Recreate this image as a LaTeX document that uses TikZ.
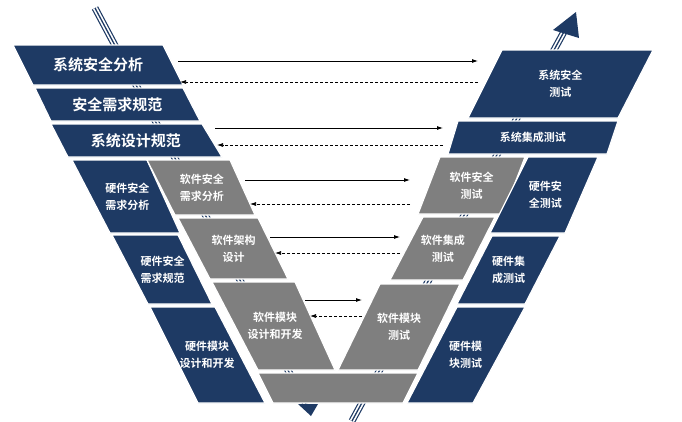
\documentclass[tikz,border=0pt]{standalone}
\usepackage{fontspec}
\newfontfamily\cjk{Noto Sans CJK SC}[BoldFont={Noto Sans CJK SC Bold}]
\begin{document}
\begin{tikzpicture}[x=1pt,y=-1pt,
  navy/.style={fill=vnavy,draw=white,line width=1.2pt},
  grayb/.style={fill=vgray,draw=white,line width=1.2pt},
  lbl/.style={text=white,font=\cjk\bfseries,align=center,inner sep=0pt},
  big/.style={font=\cjk\bfseries\fontsize{15}{17}\selectfont},
  sml/.style={font=\cjk\bfseries\fontsize{11}{17}\selectfont},
  fw/.style={-{Latex[length=6pt,width=4pt]},line width=0.8pt},
  bw/.style={-{Latex[length=6pt,width=4pt]},line width=0.7pt,dash pattern=on 3pt off 2pt}]
\usetikzlibrary{arrows.meta}
\definecolor{vnavy}{HTML}{1E3A64}
\definecolor{vgray}{HTML}{7F7F7F}
\useasboundingbox (0,0) rectangle (682,421);
\fill[white] (0,0) rectangle (682,421);
% background bands
\newcommand\band[2]{%
 \draw[vnavy,line width=7pt] #1 -- #2;
 \draw[white,line width=4.6pt] #1 -- #2;
 \draw[vnavy,line width=1.3pt] #1 -- #2;}
\band{(95,8)}{(306,404)}
\fill[vnavy] (298,404) -- (318,404) -- (311,416) -- cycle;
\band{(352,421)}{(566,28)}
\fill[vnavy] (553,30) -- (579,38) -- (576,12) -- cycle;
% parallelogram macro: name, ytop, ybot, xtl, xtr, xbl, xbr, style, size, text
\newcommand\pg[9]{%
 \draw[#8] (#4,#2) -- (#5,#2) -- (#7,#3) -- (#6,#3) -- cycle;
 \node[lbl,#9] (#1) at ({(#4+#5+#6+#7)/4},{(#2+#3)/2})}
% left side
\pg{a1}{45}{85}{13}{163}{33}{183}{navy}{big} {系统安全分析};
\pg{a2}{88}{121}{35}{183}{51}{200}{navy}{big} {安全需求规范};
\pg{a3}{124}{157}{51}{202}{68}{222}{navy}{big} {系统设计规范};
\pg{h1}{160}{233}{72}{147}{110}{180}{navy}{sml} {硬件安全\\需求分析};
\pg{h2}{235}{304}{112}{178}{148}{212}{navy}{sml} {硬件安全\\需求规范};
\pg{h3}{307}{403}{150}{215}{198}{265}{navy}{sml} {硬件模块\\设计和开发};
\pg{s1}{160}{215}{147}{230}{175}{255}{grayb}{sml} {软件安全\\需求分析};
\pg{s2}{218}{279}{178}{258}{210}{288}{grayb}{sml} {软件架构\\设计};
\pg{s3}{282}{370}{212}{295}{258}{335}{grayb}{sml} {软件模块\\设计和开发};
\draw[grayb] (258,373) -- (418,373) -- (403,403) -- (273,403) -- cycle;
% right side
\pg{b1}{50}{118}{502}{653}{468}{618}{navy}{sml} {系统安全\\测试};
\pg{b2}{121}{154}{458}{618}{448}{607}{navy}{sml} {系统集成测试};
\pg{t1}{157}{214}{440}{525}{418}{503}{grayb}{sml} {软件安全\\测试};
\pg{g1}{157}{233}{528}{598}{490}{565}{navy}{sml} {硬件安\\全测试};
\pg{t2}{217}{280}{423}{495}{390}{463}{grayb}{sml} {软件集成\\测试};
\pg{g2}{236}{304}{492}{560}{457}{525}{navy}{sml} {硬件集\\成测试};
\pg{t3}{284}{370}{380}{460}{338}{418}{grayb}{sml} {软件模块\\测试};
\pg{g3}{307}{403}{457}{525}{407}{473}{navy}{sml} {硬件模\\块测试};
% arrows
\newcommand\pr[6]{%
 \coordinate (#1f) at (#2,#4); \coordinate (#1t) at (#3,#4);
 \coordinate (#1r) at (#3,#5); \coordinate (#1l) at (#6,#5);
 \draw[fw] (#1f) -- (#1t); \draw[bw] (#1r) -- (#1l);}
\pr{r1}{178}{478}{61}{82}{180}
\pr{r2}{215}{443}{128}{145}{217}
\pr{r3}{245}{410}{180}{204}{250}
\pr{r4}{270}{400}{237}{253}{275}
\pr{r5}{305}{362}{300}{316}{310}
\end{tikzpicture}
\end{document}
